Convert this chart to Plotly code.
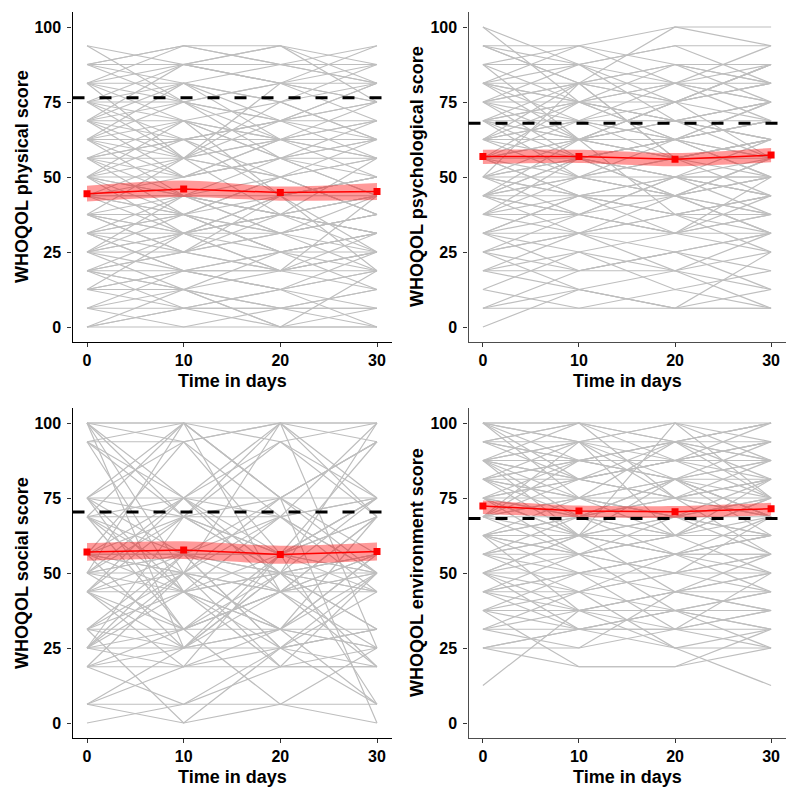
import plotly.graph_objects as go

# ---------------- data ----------------
days = [0, 10, 20, 30]
y_ticks = [0, 25, 50, 75, 100]

# individual trajectories (score at day 0, 10, 20, 30)
physical_subjects = [
    [93.75, 75, 68.75, 62.5], [87.5, 93.75, 93.75, 87.5], [87.5, 87.5, 81.25, 93.75],
    [81.25, 93.75, 87.5, 81.25], [87.5, 81.25, 87.5, 81.25], [75, 87.5, 93.75, 75],
    [81.25, 68.75, 75, 87.5], [75, 75, 81.25, 68.75], [68.75, 81.25, 68.75, 75],
    [75, 62.5, 62.5, 68.75], [68.75, 56.25, 75, 62.5], [62.5, 75, 56.25, 68.75],
    [62.5, 62.5, 68.75, 56.25], [56.25, 68.75, 62.5, 62.5], [68.75, 50, 56.25, 50],
    [56.25, 56.25, 50, 56.25], [62.5, 50, 62.5, 75], [50, 62.5, 50, 56.25],
    [56.25, 43.75, 43.75, 50], [50, 50, 56.25, 43.75], [50, 43.75, 37.5, 43.75],
    [43.75, 56.25, 50, 37.5], [43.75, 37.5, 43.75, 50], [50, 37.5, 31.25, 37.5],
    [37.5, 43.75, 37.5, 31.25], [43.75, 31.25, 43.75, 43.75], [37.5, 37.5, 25, 31.25],
    [31.25, 43.75, 31.25, 25], [37.5, 25, 31.25, 37.5], [31.25, 31.25, 37.5, 31.25],
    [25, 37.5, 25, 18.75], [31.25, 18.75, 25, 31.25], [25, 25, 18.75, 25],
    [18.75, 31.25, 25, 25], [25, 18.75, 12.5, 18.75], [18.75, 12.5, 18.75, 12.5],
    [12.5, 18.75, 12.5, 6.25], [18.75, 25, 31.25, 18.75], [12.5, 6.25, 6.25, 12.5],
    [6.25, 12.5, 0, 6.25], [6.25, 6.25, 12.5, 0], [0, 0, 0, 0],
    [0, 6.25, 6.25, 6.25], [12.5, 12.5, 6.25, 0], [87.5, 87.5, 87.5, 87.5],
    [81.25, 56.25, 68.75, 81.25], [68.75, 87.5, 81.25, 75], [62.5, 81.25, 75, 81.25],
    [56.25, 37.5, 50, 62.5], [50, 68.75, 43.75, 50], [43.75, 50, 62.5, 56.25],
    [37.5, 56.25, 37.5, 43.75], [31.25, 25, 43.75, 25], [25, 43.75, 31.25, 43.75],
    [18.75, 18.75, 18.75, 31.25], [12.5, 31.25, 18.75, 25], [6.25, 18.75, 25, 12.5],
    [0, 12.5, 0, 18.75], [75, 68.75, 56.25, 62.5], [68.75, 62.5, 68.75, 68.75],
    [56.25, 62.5, 43.75, 50], [43.75, 43.75, 56.25, 62.5], [31.25, 37.5, 50, 37.5],
    [25, 12.5, 25, 31.25], [62.5, 43.75, 37.5, 56.25], [50, 31.25, 43.75, 18.75],
    [81.25, 81.25, 62.5, 56.25], [37.5, 31.25, 18.75, 43.75], [18.75, 6.25, 12.5, 25],
    [75, 56.25, 81.25, 81.25], [87.5, 93.75, 87.5, 93.75], [81.25, 87.5, 93.75, 81.25],
    [93.75, 87.5, 81.25, 87.5], [87.5, 75, 81.25, 75], [81.25, 75, 68.75, 81.25],
    [75, 81.25, 75, 62.5], [68.75, 75, 62.5, 68.75], [62.5, 56.25, 62.5, 62.5],
    [56.25, 50, 56.25, 43.75], [50, 56.25, 62.5, 50], [43.75, 37.5, 31.25, 37.5],
    [37.5, 31.25, 37.5, 31.25], [31.25, 37.5, 25, 31.25], [25, 31.25, 37.5, 25],
    [18.75, 25, 18.75, 18.75], [12.5, 18.75, 12.5, 18.75], [6.25, 0, 6.25, 6.25],
    [0, 6.25, 0, 0], [68.75, 68.75, 62.5, 62.5], [56.25, 62.5, 68.75, 75],
    [43.75, 43.75, 37.5, 31.25], [31.25, 18.75, 18.75, 25], [25, 31.25, 31.25, 37.5],
    [50, 43.75, 50, 37.5], [62.5, 68.75, 56.25, 56.25], [37.5, 25, 37.5, 43.75],
    [18.75, 12.5, 6.25, 12.5],
]

psychological_subjects = [
    [100, 87.5, 93.75, 93.75], [93.75, 93.75, 100, 100], [93.75, 81.25, 87.5, 87.5],
    [87.5, 93.75, 81.25, 93.75], [81.25, 87.5, 93.75, 81.25], [81.25, 75, 81.25, 75],
    [75, 81.25, 75, 87.5], [81.25, 68.75, 75, 81.25], [75, 75, 68.75, 68.75],
    [68.75, 81.25, 81.25, 75], [68.75, 62.5, 68.75, 62.5], [62.5, 75, 62.5, 68.75],
    [62.5, 68.75, 56.25, 62.5], [68.75, 56.25, 62.5, 56.25], [56.25, 62.5, 62.5, 68.75],
    [56.25, 50, 56.25, 62.5], [62.5, 56.25, 50, 50], [50, 62.5, 56.25, 56.25],
    [50, 50, 43.75, 50], [56.25, 43.75, 50, 43.75], [43.75, 56.25, 43.75, 56.25],
    [50, 43.75, 37.5, 43.75], [43.75, 37.5, 50, 37.5], [37.5, 43.75, 43.75, 31.25],
    [43.75, 31.25, 31.25, 43.75], [37.5, 37.5, 31.25, 37.5], [31.25, 43.75, 37.5, 31.25],
    [31.25, 25, 31.25, 25], [25, 31.25, 25, 31.25], [25, 18.75, 18.75, 25],
    [18.75, 25, 12.5, 18.75], [18.75, 12.5, 6.25, 6.25], [12.5, 6.25, 6.25, 12.5],
    [6.25, 6.25, 12.5, 6.25], [0, 12.5, 18.75, 6.25], [6.25, 18.75, 25, 12.5],
    [100, 75, 87.5, 81.25], [93.75, 87.5, 75, 87.5], [87.5, 62.5, 68.75, 75],
    [75, 87.5, 68.75, 62.5], [68.75, 75, 75, 81.25], [62.5, 50, 62.5, 75],
    [56.25, 68.75, 68.75, 56.25], [50, 56.25, 62.5, 50], [62.5, 81.25, 56.25, 62.5],
    [43.75, 50, 56.25, 62.5], [37.5, 56.25, 50, 43.75], [31.25, 31.25, 43.75, 31.25],
    [25, 37.5, 31.25, 50], [81.25, 81.25, 100, 93.75], [75, 68.75, 81.25, 68.75],
    [68.75, 68.75, 62.5, 68.75], [56.25, 56.25, 43.75, 56.25], [50, 37.5, 50, 50],
    [43.75, 43.75, 37.5, 43.75], [62.5, 62.5, 75, 56.25], [18.75, 31.25, 18.75, 31.25],
    [81.25, 93.75, 87.5, 75], [75, 56.25, 62.5, 75], [31.25, 18.75, 25, 18.75],
    [68.75, 50, 50, 62.5], [56.25, 75, 81.25, 81.25], [43.75, 62.5, 37.5, 37.5],
    [87.5, 75, 62.5, 68.75], [25, 12.5, 6.25, 25], [50, 81.25, 56.25, 43.75],
    [93.75, 81.25, 75, 81.25], [87.5, 87.5, 81.25, 87.5], [81.25, 75, 68.75, 75],
    [75, 62.5, 75, 68.75], [68.75, 62.5, 56.25, 62.5], [62.5, 68.75, 62.5, 56.25],
    [56.25, 62.5, 56.25, 50], [50, 43.75, 50, 56.25], [43.75, 50, 43.75, 37.5],
    [37.5, 31.25, 37.5, 43.75], [31.25, 37.5, 31.25, 31.25], [25, 31.25, 37.5, 25],
    [18.75, 18.75, 25, 31.25], [6.25, 12.5, 6.25, 6.25], [12.5, 25, 18.75, 12.5],
    [75, 81.25, 87.5, 81.25], [62.5, 62.5, 68.75, 62.5], [50, 56.25, 50, 43.75],
    [43.75, 37.5, 43.75, 50], [37.5, 50, 43.75, 37.5], [68.75, 75, 68.75, 75],
    [56.25, 43.75, 43.75, 50], [81.25, 62.5, 75, 87.5], [31.25, 43.75, 31.25, 37.5],
    [43.75, 56.25, 62.5, 50],
]

social_subjects = [
    [100, 100, 75, 93.75], [100, 75, 100, 100], [93.75, 100, 93.75, 75],
    [93.75, 93.75, 100, 93.75], [100, 50, 68.75, 100], [75, 100, 75, 75],
    [75, 68.75, 93.75, 68.75], [68.75, 75, 68.75, 75], [75, 43.75, 50, 56.25],
    [68.75, 56.25, 75, 50], [56.25, 68.75, 56.25, 68.75], [56.25, 50, 43.75, 56.25],
    [50, 56.25, 50, 43.75], [50, 43.75, 56.25, 50], [43.75, 50, 31.25, 50],
    [43.75, 31.25, 43.75, 43.75], [56.25, 56.25, 50, 56.25], [31.25, 43.75, 25, 31.25],
    [31.25, 25, 31.25, 25], [25, 31.25, 43.75, 18.75], [25, 18.75, 18.75, 25],
    [18.75, 25, 25, 31.25], [18.75, 6.25, 18.75, 18.75], [6.25, 0, 6.25, 0],
    [0, 6.25, 25, 6.25], [6.25, 18.75, 31.25, 6.25], [100, 93.75, 56.25, 75],
    [93.75, 68.75, 100, 68.75], [68.75, 100, 43.75, 56.25], [56.25, 75, 93.75, 100],
    [50, 68.75, 68.75, 75], [43.75, 25, 50, 31.25], [31.25, 56.25, 56.25, 43.75],
    [25, 43.75, 68.75, 50], [18.75, 31.25, 6.25, 25], [75, 56.25, 25, 50],
    [68.75, 31.25, 43.75, 68.75], [50, 75, 50, 50], [56.25, 43.75, 31.25, 56.25],
    [43.75, 68.75, 75, 93.75], [25, 50, 18.75, 18.75], [31.25, 0, 25, 31.25],
    [100, 25, 56.25, 93.75], [50, 100, 75, 0], [75, 75, 56.25, 75],
    [56.25, 93.75, 68.75, 43.75], [68.75, 50, 100, 25], [43.75, 56.25, 43.75, 68.75],
    [18.75, 50, 31.25, 56.25], [93.75, 43.75, 18.75, 50], [50, 31.25, 50, 100],
    [25, 68.75, 50, 31.25], [56.25, 56.25, 56.25, 50], [6.25, 6.25, 6.25, 6.25],
    [100, 100, 100, 100], [93.75, 75, 75, 93.75], [75, 93.75, 100, 75],
    [68.75, 68.75, 56.25, 68.75], [56.25, 50, 50, 56.25], [50, 50, 43.75, 50],
    [43.75, 43.75, 50, 43.75], [31.25, 31.25, 31.25, 25], [25, 25, 31.25, 31.25],
    [18.75, 18.75, 25, 18.75], [50, 56.25, 68.75, 50], [43.75, 75, 43.75, 25],
    [75, 31.25, 56.25, 75], [56.25, 25, 43.75, 50], [25, 56.25, 25, 43.75],
    [68.75, 43.75, 31.25, 68.75], [31.25, 50, 75, 56.25], [100, 68.75, 50, 75],
    [6.25, 25, 50, 18.75], [43.75, 18.75, 56.25, 6.25],
]

environment_subjects = [
    [100, 100, 100, 100], [100, 87.5, 93.75, 100], [93.75, 100, 87.5, 93.75],
    [93.75, 93.75, 100, 87.5], [87.5, 93.75, 93.75, 93.75], [87.5, 81.25, 87.5, 81.25],
    [81.25, 87.5, 81.25, 87.5], [87.5, 75, 81.25, 93.75], [81.25, 81.25, 75, 81.25],
    [75, 87.5, 87.5, 75], [81.25, 68.75, 75, 75], [75, 75, 68.75, 81.25],
    [75, 62.5, 81.25, 68.75], [68.75, 75, 75, 68.75], [68.75, 68.75, 62.5, 75],
    [62.5, 75, 68.75, 62.5], [68.75, 56.25, 62.5, 62.5], [62.5, 62.5, 56.25, 68.75],
    [62.5, 68.75, 75, 56.25], [56.25, 62.5, 62.5, 62.5], [56.25, 50, 56.25, 56.25],
    [50, 56.25, 50, 56.25], [50, 43.75, 50, 50], [43.75, 50, 43.75, 43.75],
    [43.75, 37.5, 43.75, 50], [37.5, 43.75, 37.5, 37.5], [37.5, 31.25, 37.5, 43.75],
    [31.25, 37.5, 31.25, 31.25], [25, 31.25, 25, 25], [31.25, 25, 31.25, 37.5],
    [25, 18.75, 18.75, 31.25], [12.5, 37.5, 25, 12.5], [100, 93.75, 81.25, 87.5],
    [93.75, 81.25, 93.75, 100], [87.5, 100, 75, 81.25], [81.25, 62.5, 68.75, 75],
    [75, 81.25, 87.5, 87.5], [68.75, 87.5, 81.25, 68.75], [62.5, 56.25, 68.75, 56.25],
    [56.25, 68.75, 56.25, 62.5], [50, 62.5, 62.5, 50], [43.75, 56.25, 37.5, 43.75],
    [37.5, 50, 56.25, 43.75], [100, 75, 62.5, 81.25], [93.75, 87.5, 87.5, 93.75],
    [87.5, 62.5, 100, 75], [81.25, 93.75, 75, 68.75], [75, 56.25, 62.5, 62.5],
    [68.75, 81.25, 87.5, 100], [62.5, 37.5, 43.75, 56.25], [56.25, 56.25, 50, 68.75],
    [50, 31.25, 37.5, 25], [31.25, 43.75, 25, 31.25], [25, 25, 43.75, 37.5],
    [81.25, 75, 93.75, 81.25], [75, 68.75, 68.75, 75], [68.75, 93.75, 62.5, 75],
    [100, 100, 93.75, 87.5], [62.5, 50, 31.25, 50], [87.5, 87.5, 81.25, 62.5],
    [43.75, 43.75, 56.25, 62.5], [50, 37.5, 37.5, 31.25], [37.5, 18.75, 18.75, 25],
    [100, 93.75, 100, 93.75], [93.75, 87.5, 93.75, 87.5], [87.5, 93.75, 87.5, 87.5],
    [81.25, 75, 81.25, 75], [75, 81.25, 75, 81.25], [68.75, 62.5, 68.75, 68.75],
    [62.5, 68.75, 62.5, 62.5], [56.25, 62.5, 56.25, 50], [50, 50, 56.25, 56.25],
    [43.75, 50, 50, 43.75], [37.5, 37.5, 43.75, 37.5], [31.25, 31.25, 37.5, 31.25],
    [25, 31.25, 31.25, 25], [87.5, 81.25, 75, 87.5], [81.25, 87.5, 93.75, 75],
    [75, 68.75, 81.25, 68.75], [68.75, 75, 68.75, 62.5], [62.5, 56.25, 62.5, 68.75],
    [56.25, 43.75, 50, 56.25], [50, 62.5, 43.75, 50], [93.75, 100, 93.75, 100],
    [100, 81.25, 87.5, 93.75], [43.75, 31.25, 31.25, 37.5], [75, 62.5, 56.25, 62.5],
    [87.5, 68.75, 81.25, 81.25],
]

# group means and confidence bands
physical_mean = [44.4, 46.0, 44.8, 45.2]
physical_lower = [41.8, 43.3, 42.1, 42.3]
physical_upper = [47.1, 48.8, 46.8, 48.0]

psychological_mean = [56.8, 56.8, 55.9, 57.3]
psychological_lower = [54.3, 54.7, 53.6, 54.9]
psychological_upper = [59.1, 59.1, 58.0, 59.7]

social_mean = [57.0, 57.7, 56.2, 57.2]
social_lower = [54.1, 54.7, 53.1, 54.2]
social_upper = [60.0, 60.6, 59.1, 60.2]

environment_mean = [72.3, 70.7, 70.4, 71.4]
environment_lower = [69.7, 68.6, 68.4, 69.2]
environment_upper = [74.2, 72.5, 72.3, 73.4]

# reference (population norm) values
physical_norm = 76.4
psychological_norm = 67.9
social_norm = 70.3
environment_norm = 68.2

# ---------------- figure ----------------
FONT = "Liberation Sans, Arial, sans-serif"
OFF = 8.0            # page body margin offset
W = H = 792.0

panels = [
    dict(subj=physical_subjects, mean=physical_mean, lo=physical_lower, hi=physical_upper,
         norm=physical_norm, title="WHOQOL physical score",
         xpx=(72.5, 391.5), ypx=(12, 342), axcol="black", ytitle_x=22, xtitle_x=232, xtitle_y=381),
    dict(subj=psychological_subjects, mean=psychological_mean, lo=psychological_lower, hi=psychological_upper,
         norm=psychological_norm, title="WHOQOL psychological score",
         xpx=(468.5, 785.5), ypx=(12, 342), axcol="#4d4d4d", ytitle_x=417, xtitle_x=627, xtitle_y=381),
    dict(subj=social_subjects, mean=social_mean, lo=social_lower, hi=social_upper,
         norm=social_norm, title="WHOQOL social score",
         xpx=(72.5, 391.5), ypx=(408, 738), axcol="black", ytitle_x=22, xtitle_x=232, xtitle_y=777),
    dict(subj=environment_subjects, mean=environment_mean, lo=environment_lower, hi=environment_upper,
         norm=environment_norm, title="WHOQOL environment score",
         xpx=(468.5, 785.5), ypx=(408, 738), axcol="#4d4d4d", ytitle_x=417, xtitle_x=627, xtitle_y=777),
]


def px_x(v):
    return (v - OFF) / W


def px_y(v):
    return 1 - (v - OFF) / H


fig = go.Figure()
layout_axes = {}
shapes = []
annotations = []

for i, p in enumerate(panels, start=1):
    suffix = "" if i == 1 else str(i)
    xa, ya = "x" + suffix, "y" + suffix
    # spaghetti of individual trajectories
    xs, ys = [], []
    for s in p["subj"]:
        xs += days + [None]
        ys += s + [None]
    fig.add_trace(go.Scatter(x=xs, y=ys, mode="lines", xaxis=xa, yaxis=ya,
                             line=dict(color="#BEBEBE", width=1.2), hoverinfo="skip",
                             showlegend=False))
    # confidence band
    fig.add_trace(go.Scatter(x=days, y=p["lo"], mode="lines", xaxis=xa, yaxis=ya,
                             line=dict(width=0, shape="spline", smoothing=0.8),
                             showlegend=False, hoverinfo="skip"))
    fig.add_trace(go.Scatter(x=days, y=p["hi"], mode="lines", xaxis=xa, yaxis=ya,
                             line=dict(width=0, shape="spline", smoothing=0.8),
                             fill="tonexty", fillcolor="rgba(255,0,0,0.4)",
                             showlegend=False, hoverinfo="skip"))
    # mean line
    fig.add_trace(go.Scatter(x=days, y=p["mean"], mode="lines+markers", xaxis=xa, yaxis=ya,
                             line=dict(color="#FF0000", width=1.5),
                             marker=dict(symbol="square", size=7, color="#FF0000"),
                             showlegend=False))
    # norm reference line
    shapes.append(dict(type="line", xref=f"{xa} domain", yref=ya, x0=0, x1=1,
                       y0=p["norm"], y1=p["norm"],
                       line=dict(color="black", width=3, dash="12px,15px")))

    x0, x1 = p["xpx"]
    yt, yb = p["ypx"]
    axis_common = dict(showgrid=False, zeroline=False, showline=True,
                       linecolor=p["axcol"], linewidth=1.3,
                       ticks="outside", ticklen=4, tickwidth=1.1, tickcolor="#333333",
                       tickfont=dict(family=FONT, size=16, color="black", weight="bold"))
    layout_axes["xaxis" + suffix] = dict(domain=[px_x(x0), px_x(x1)], range=[-1.5, 31.5],
                                         tickvals=days, anchor=ya, **axis_common)
    layout_axes["yaxis" + suffix] = dict(domain=[px_y(yb), px_y(yt)], range=[-5, 105],
                                         tickvals=y_ticks, anchor=xa, ticklabelstandoff=3,
                                         **axis_common)

    annotations.append(dict(text="<b>Time in days</b>", xref="paper", yref="paper",
                            x=px_x(p["xtitle_x"]), y=px_y(p["xtitle_y"]),
                            xanchor="center", yanchor="middle", showarrow=False,
                            font=dict(family=FONT, size=18, color="black")))
    annotations.append(dict(text=f"<b>{p['title']}</b>", xref="paper", yref="paper",
                            x=px_x(p["ytitle_x"]), y=px_y((yt + yb) / 2), textangle=-90,
                            xanchor="center", yanchor="middle", showarrow=False,
                            font=dict(family=FONT, size=18, color="black")))

fig.update_layout(width=int(W), height=int(H), margin=dict(l=0, r=0, t=0, b=0),
                  paper_bgcolor="white", plot_bgcolor="white",
                  shapes=shapes, annotations=annotations, showlegend=False,
                  **layout_axes)

fig.write_html("out.html")
